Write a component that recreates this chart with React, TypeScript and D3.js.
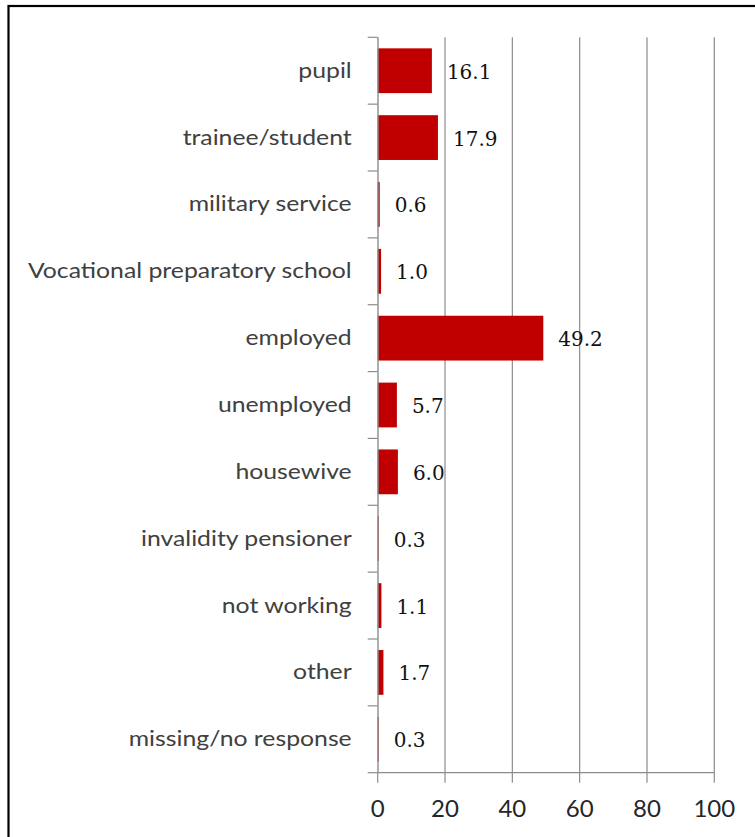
import React from "react";
import * as d3 from "d3";

const categories: string[] = [
  "pupil",
  "trainee/student",
  "military service",
  "Vocational preparatory school",
  "employed",
  "unemployed",
  "housewive",
  "invalidity pensioner",
  "not working",
  "other",
  "missing/no response",
];
const values: number[] = [16.1, 17.9, 0.6, 1.0, 49.2, 5.7, 6.0, 0.3, 1.1, 1.7, 0.3];
const xTicks: number[] = [0, 20, 40, 60, 80, 100];

const W = 755;
const H = 837;
const plot = { left: 377.7, right: 714.3, top: 37.3, bottom: 772.7 };

export default function App() {
  const x = d3.scaleLinear().domain([0, 100]).range([plot.left, plot.right]);
  const y = d3
    .scaleBand<string>()
    .domain(categories)
    .range([plot.top, plot.bottom])
    .paddingInner(0.33)
    .paddingOuter(0.165);
  const step = y.step();
  const bounds = d3.range(categories.length + 1).map((i) => plot.top + i * step);
  const grid = "#8c8c8c";

  return (
    <svg
      width={W}
      height={H}
      style={{ position: "absolute", left: 0, top: 0, background: "#fff" }}
    >
      <rect x={0} y={0} width={W} height={H} fill="#fff" />
      {/* frame */}
      <rect x={8.5} y={6} width={W + 20} height={H + 20} fill="none" stroke="#000" strokeWidth={2.2} />
      {/* gridlines */}
      {xTicks.slice(1).map((t) => (
        <line key={"g" + t} x1={x(t)} x2={x(t)} y1={plot.top} y2={plot.bottom} stroke={grid} strokeWidth={1.2} />
      ))}
      {/* bars */}
      {categories.map((c, i) => (
        <rect
          key={"b" + c}
          x={x(0)}
          y={y(c)!}
          width={x(values[i]) - x(0)}
          height={y.bandwidth()}
          fill="#C00000"
        />
      ))}
      {/* axes */}
      <line x1={x(0) + 0.3} x2={x(0) + 0.3} y1={plot.top} y2={plot.bottom} stroke={grid} strokeWidth={1.4} />
      {bounds.map((b, i) => (
        <line key={"ct" + i} x1={x(0) - 10} x2={x(0)} y1={b} y2={b} stroke={grid} strokeWidth={1.2} />
      ))}
      <line x1={x(0)} x2={x(100)} y1={plot.bottom} y2={plot.bottom} stroke={grid} strokeWidth={1.2} />
      {xTicks.map((t) => (
        <line key={"xt" + t} x1={x(t)} x2={x(t)} y1={plot.bottom} y2={plot.bottom + 10} stroke={grid} strokeWidth={1.2} />
      ))}
      {/* tick labels */}
      {xTicks.map((t) => (
        <text
          key={"xl" + t}
          x={x(t)}
          y={plot.bottom + 44}
          textAnchor="middle"
          fontFamily="Lato"
          fontSize={24}
          fill="#262626"
        >
          {t}
        </text>
      ))}
      {/* category labels */}
      {categories.map((c) => (
        <text
          key={"cl" + c}
          transform={`translate(${x(0) - 26},${y(c)! + y.bandwidth() / 2 + 7}) scale(1.18,1)`}
          textAnchor="end"
          fontFamily="Lato"
          fontSize={21}
          fill="#404040"
        >
          {c}
        </text>
      ))}
      {/* value labels */}
      {categories.map((c, i) => (
        <text
          key={"vl" + c}
          x={x(values[i]) + 15}
          y={y(c)! + y.bandwidth() / 2 + 8}
          fontFamily="DejaVu Serif"
          fontSize={20}
          fill="#111"
        >
          {values[i].toFixed(1)}
        </text>
      ))}
    </svg>
  );
}
